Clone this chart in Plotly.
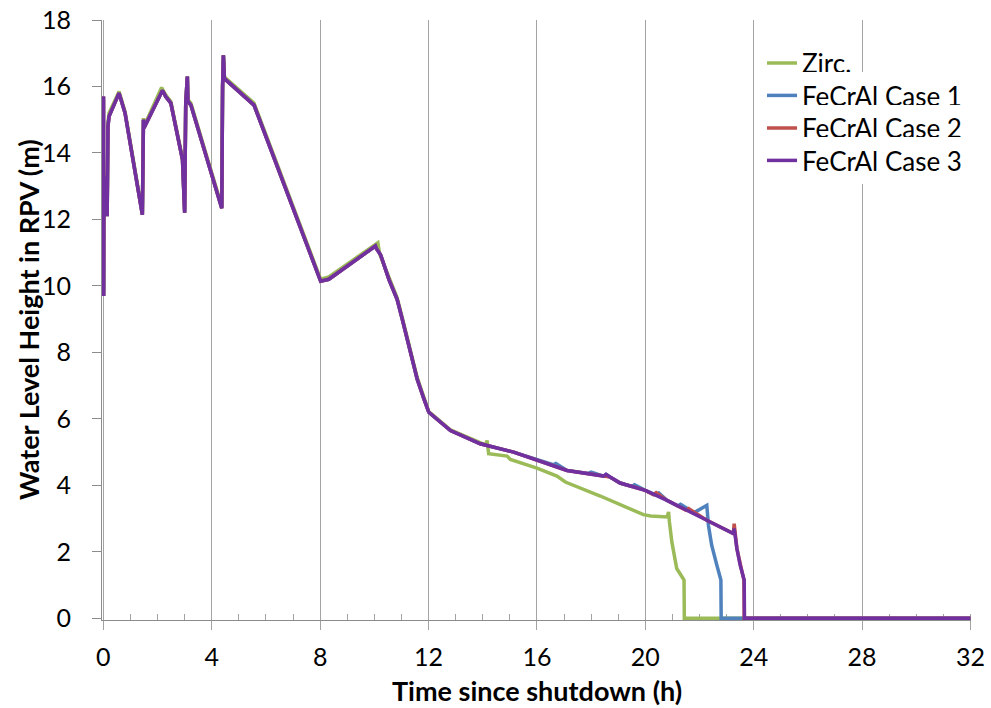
import plotly.graph_objects as go

# ---- data: RPV water level (m) vs time since shutdown (h) ----
# shared early history of the FeCrAl cases
fecral_t = [0.0, 0.005, 0.01, 0.02, 0.06, 0.10, 0.14, 0.17, 0.21, 0.58, 0.80, 1.44, 1.48, 1.50,
            2.18, 2.30, 2.49, 2.92, 3.00, 3.04, 3.10, 3.12, 3.23, 4.37, 4.40, 4.43, 4.47, 4.52,
            5.56, 8.02, 8.32, 10.04, 10.08, 10.23, 10.54, 10.84, 11.03, 11.21, 11.40, 11.58,
            11.83, 12.01, 12.81, 13.91, 15.14, 16.00]
fecral_h = [13.4, 15.7, 9.7, 13.3, 12.2, 13.0, 12.1, 14.8, 15.1, 15.8, 15.2, 12.14, 15.0, 14.75,
            15.88, 15.7, 15.5, 13.8, 12.2, 15.5, 16.3, 15.55, 15.44, 12.34, 16.0, 16.94, 16.2, 16.2,
            15.44, 10.14, 10.2, 11.2, 11.12, 10.94, 10.19, 9.6, 9.0, 8.4, 7.8, 7.2,
            6.6, 6.2, 5.65, 5.25, 5.0, 4.77]

# late history of each FeCrAl case
case1_t = [16.6, 16.7, 17.11, 17.9, 18.0, 18.46, 18.55, 18.7, 19.07, 19.5, 19.6, 20.0, 20.4,
           20.5, 20.8, 21.2, 21.3, 21.8, 21.9, 22.27, 22.33, 22.45, 22.64, 22.79, 22.80, 32.0]
case1_h = [4.62, 4.66, 4.45, 4.36, 4.40, 4.28, 4.33, 4.25, 4.07, 3.97, 4.02, 3.85, 3.71,
           3.77, 3.55, 3.38, 3.43, 3.18, 3.23, 3.40, 2.8, 2.2, 1.6, 1.15, 0.0, 0.0]
case2_t = [17.11, 18.46, 18.7, 19.07, 20.0, 20.3, 20.4, 20.8, 21.5, 21.6, 22.27, 23.25,
           23.28, 23.38, 23.50, 23.64, 23.65, 32.0]
case2_h = [4.45, 4.28, 4.25, 4.07, 3.85, 3.72, 3.78, 3.55, 3.25, 3.30, 2.95, 2.55,
           2.85, 2.1, 1.6, 1.15, 0.0, 0.0]
case3_t = [17.11, 18.46, 18.55, 18.7, 19.07, 20.0, 20.8, 22.27, 23.25, 23.28, 23.38, 23.50,
           23.65, 23.66, 32.0]
case3_h = [4.45, 4.28, 4.33, 4.25, 4.07, 3.85, 3.55, 2.95, 2.55, 2.7, 2.1, 1.6,
           1.15, 0.0, 0.0]

# Zircaloy reference case
zirc_t = [0.0, 0.005, 0.01, 0.02, 0.06, 0.10, 0.14, 0.17, 0.21, 0.58, 0.80, 1.44, 1.48, 1.50,
          2.15, 2.30, 2.49, 2.92, 3.00, 3.04, 3.10, 3.12, 3.23, 4.37, 4.40, 4.43, 4.47, 4.52,
          5.56, 8.02, 8.32, 10.13, 10.20, 10.54, 10.84, 11.03, 11.21, 11.40, 11.58,
          11.83, 12.01, 12.81, 13.91, 14.10, 14.16, 14.22, 14.90, 15.02, 16.00, 16.74, 17.05,
          18.34, 19.93, 20.20, 20.80, 20.86, 20.89, 20.98, 21.16, 21.43, 21.44, 32.0]
zirc_h = [13.5, 15.6, 9.8, 13.4, 12.3, 13.1, 12.2, 14.9, 15.2, 15.85, 15.25, 12.2, 15.05, 14.8,
          15.97, 15.75, 15.55, 13.85, 12.3, 15.5, 16.3, 15.6, 15.5, 12.4, 16.0, 16.94, 16.25, 16.25,
          15.5, 10.2, 10.27, 11.3, 10.95, 10.25, 9.65, 9.05, 8.45, 7.85, 7.25,
          6.65, 6.22, 5.67, 5.27, 5.22, 5.35, 4.95, 4.88, 4.78, 4.52, 4.28, 4.10,
          3.68, 3.12, 3.08, 3.05, 3.2, 2.9, 2.3, 1.5, 1.15, 0.0, 0.0]

series = [
    ("Zirc.", zirc_t, zirc_h, "#9BBB59"),
    ("FeCrAl Case 1", fecral_t + case1_t, fecral_h + case1_h, "#4F81BD"),
    ("FeCrAl Case 2", fecral_t + case2_t, fecral_h + case2_h, "#C0504D"),
    ("FeCrAl Case 3", fecral_t + case3_t, fecral_h + case3_h, "#7030A0"),
]

x_ticks = [0, 4, 8, 12, 16, 20, 24, 28, 32]
y_ticks = [0, 2, 4, 6, 8, 10, 12, 14, 16, 18]

FONT = "Lato"
GRID = "#A3A3A3"
AXIS = "#8C8C8C"

# plot area in pixels
L, R, T, B = 102, 20, 20, 88
W, H = 991, 708
PW, PH = W - L - R, H - T - B

fig = go.Figure()
# one legend box per entry so the rows sit on a tight pitch
legend_names = ["legend", "legend2", "legend3", "legend4"]
legend_rows = [63, 95.5, 128, 160.5]
for (name, t, h, color), lg in zip(series, legend_names):
    fig.add_trace(go.Scatter(x=t, y=h, name=name, mode="lines", legend=lg,
                             line=dict(color=color, width=3.5)))

legend_layout = {}
for lg, row in zip(legend_names, legend_rows):
    legend_layout[lg] = dict(x=(762 - L) / PW, y=(T + PH - row) / PH,
                             xanchor="left", yanchor="middle",
                             bgcolor="white", borderwidth=0, itemwidth=30,
                             font=dict(family=FONT, size=26, color="black"))

fig.update_layout(
    template="none",
    width=W, height=H,
    margin=dict(l=L, r=R, t=T, b=B),
    paper_bgcolor="white", plot_bgcolor="white",
    font=dict(family=FONT, size=25, color="black"),
    showlegend=True,
    xaxis=dict(range=[-0.05, 32.02], tickvals=x_ticks, ticktext=[str(v) for v in x_ticks],
               showgrid=True, gridcolor=GRID, gridwidth=1,
               showline=True, linecolor=AXIS, linewidth=1,
               ticks="outside", ticklen=9, tickcolor=GRID, tickwidth=1,
               minor=dict(dtick=1, ticks="inside", ticklen=6, tickcolor=GRID, showgrid=False),
               zeroline=False, layer="below traces", ticklabelstandoff=6, automargin=False,
               tickfont=dict(family=FONT, size=25)),
    yaxis=dict(range=[-0.05, 18], tickvals=y_ticks, ticktext=[str(v) for v in y_ticks],
               showgrid=False, showline=True, linecolor=AXIS, linewidth=1,
               ticks="outside", ticklen=9, tickcolor=AXIS, tickwidth=1,
               zeroline=False, layer="below traces", ticklabelstandoff=16, automargin=False,
               tickfont=dict(family=FONT, size=25)),
    annotations=[
        dict(text="<b>Time since shutdown (h)</b>", xref="paper", yref="paper",
             x=0.5, y=-(690 - (T + PH)) / PH, xanchor="center", yanchor="middle",
             showarrow=False, font=dict(family=FONT, size=27)),
        dict(text="<b>Water Level Height in RPV (m)</b>", xref="paper", yref="paper",
             x=-(L - 28) / PW, y=0.5, xanchor="center", yanchor="middle",
             textangle=-90, showarrow=False, font=dict(family=FONT, size=27)),
    ],
    **legend_layout,
)

fig.write_html("out.html")
